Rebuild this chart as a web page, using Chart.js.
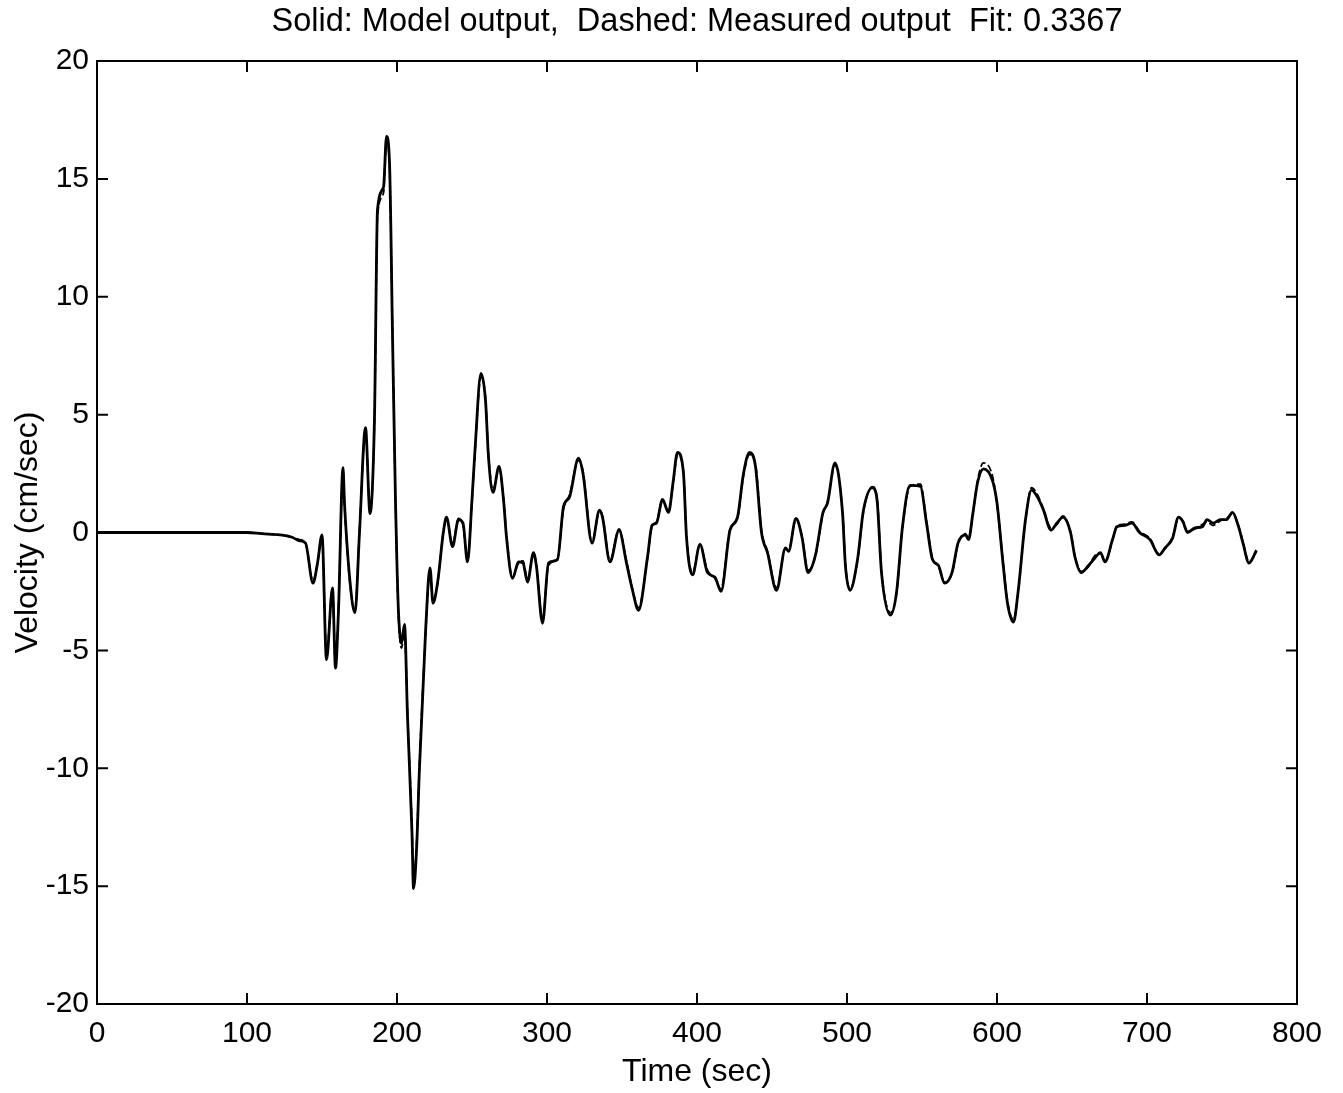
<!DOCTYPE html>
<html>
<head>
<meta charset="utf-8">
<title>Model vs measured velocity</title>
<script src="https://cdn.jsdelivr.net/npm/chart.js"></script>
<style>
    html, body { margin: 0; padding: 0; background: #fff; }
    #wrap { width: 1343px; height: 1093px; }
</style>
</head>
<body>
<div id="wrap"><canvas id="velocityChart" width="1343" height="1093"></canvas></div>
<script>
const timeSec = [
    0, 100, 110, 122, 130, 135, 139, 144, 147, 150, 153, 157, 159, 161, 164, 165, 169, 172, 175, 179,
    182, 185, 187, 191, 193, 195, 197, 199, 200, 201, 203, 205, 207, 210, 211, 213, 215, 219, 222, 224,
    227, 231, 233, 237, 241, 244, 247, 250, 252, 256, 259, 261, 264, 268, 271, 273, 277, 281, 284, 287,
    291, 293, 297, 301, 307, 311, 315, 321, 324, 330, 335, 337, 342, 348, 353, 357, 361, 367, 370, 373,
    377, 381, 384, 387, 391, 393, 397, 402, 407, 412, 416, 422, 427, 431, 435, 439, 443, 447, 453, 459,
    461, 466, 470, 474, 479, 484, 487, 492, 497, 499, 502, 507, 511, 517, 520, 523, 529, 533, 537, 542,
    549, 553, 557, 561, 565, 570, 574, 579, 581, 584, 587, 591, 597, 600, 604, 607, 611, 614, 619, 623,
    627, 631, 636, 640, 644, 649, 652, 656, 661, 665, 669, 672, 677, 680, 685, 690, 695, 702, 708, 712,
    717, 721, 724, 727, 732, 737, 740, 744, 749, 753, 757, 761, 764, 768, 773
];

// solid line
const modelVelocity = [
    0, 0, -0.05, -0.1, -0.2, -0.35, -0.45, -2.15, -1.3, -0.1, -5.4, -2.35, -5.75, -3.3, 2.75, 1.25, -2.3, -3.4, 0, 4.45,
    0.8, 4.9, 13.7, 14.65, 16.8, 15.7, 8.4, 1.3, -1.4, -3.4, -4.7, -3.9, -7.8, -12.75, -15.1, -13.5, -9.95, -4.25, -1.5, -3.0,
    -2.15, 0.05, 0.65, -0.6, 0.55, 0.4, -1.25, 1.4, 3.5, 6.75, 5.6, 3.2, 1.7, 2.8, 1.4, -0.2, -1.95, -1.25, -1.3, -2.1,
    -0.85, -1.45, -3.85, -1.3, -1.15, 1.1, 1.5, 3.15, 2.5, -0.45, 0.95, 0.65, -1.25, 0.1, -1.3, -2.45, -3.3, -1.05, 0.3, 0.4,
    1.4, 0.85, 2.1, 3.4, 2.5, -0.2, -1.8, -0.5, -1.7, -1.9, -2.5, 0.1, 0.65, 2.5, 3.4, 2.8, 0, -0.85, -2.45, -0.65,
    -0.8, 0.6, -0.2, -1.7, -0.95, 0.85, 1.25, 2.95, 0.85, -1.45, -2.45, -1.15, 0.95, 1.9, 1.4, -1.7, -3.5, -2.55, 0.25, 2.0,
    1.95, 0.4, -1.15, -1.4, -2.15, -1.7, -0.45, -0.1, -0.3, 0.85, 2.1, 2.7, 2.2, 1.25, -1.3, -3.0, -3.8, -2.55, 0.55, 1.8,
    1.5, 0.95, 0.1, 0.4, 0.65, 0, -1.05, -1.7, -1.4, -1.1, -0.85, -1.25, -0.3, 0.25, 0.3, 0.4, 0, -0.3, -0.95, -0.65,
    -0.25, 0.65, 0.45, 0, 0.2, 0.25, 0.55, 0.4, 0.55, 0.55, 0.85, 0.25, -0.45, -1.3, -0.75
];

// dashed line
const measuredVelocity = [
    0, 0, -0.05, -0.1, -0.2, -0.3, -0.45, -2.05, -1.3, -0.2, -5.2, -2.4, -5.6, -3.2, 2.5, 1.1, -2.4, -3.3, 0.1, 4.3,
    0.9, 4.7, 13.4, 14.4, 16.6, 15.5, 8.6, 1.2, -1.5, -3.6, -4.9, -4.1, -7.6, -12.5, -14.6, -13.3, -9.8, -4.4, -1.6, -2.9,
    -2.2, 0.1, 0.6, -0.5, 0.6, 0.3, -1.2, 1.3, 3.4, 6.6, 5.7, 3.3, 1.8, 2.7, 1.5, -0.1, -1.9, -1.3, -1.2, -2.0,
    -0.9, -1.4, -3.7, -1.4, -1.1, 1.0, 1.6, 3.05, 2.6, -0.4, 0.9, 0.7, -1.2, 0.15, -1.2, -2.4, -3.2, -1.1, 0.25, 0.45,
    1.35, 0.9, 2.0, 3.3, 2.6, -0.1, -1.7, -0.55, -1.6, -1.95, -2.4, 0.15, 0.6, 2.4, 3.3, 2.9, 0.1, -0.8, -2.35, -0.7,
    -0.75, 0.55, -0.15, -1.6, -1.0, 0.8, 1.3, 2.85, 0.95, -1.35, -2.4, -1.2, 0.9, 1.95, 1.5, -1.6, -3.4, -2.6, 0.2, 1.95,
    2.05, 0.5, -1.1, -1.45, -2.1, -1.75, -0.5, -0.05, -0.25, 0.8, 2.2, 2.95, 2.4, 1.2, -1.2, -2.9, -3.7, -2.6, 0.5, 1.9,
    1.6, 1.0, 0.2, 0.35, 0.7, 0.05, -1.0, -1.65, -1.45, -1.0, -0.9, -1.2, -0.35, 0.3, 0.35, 0.45, 0.05, -0.25, -0.9, -0.7,
    -0.2, 0.6, 0.5, 0.05, 0.15, 0.35, 0.45, 0.3, 0.5, 0.6, 0.8, 0.3, -0.4, -1.25, -0.8
];

const xTicks = [0, 100, 200, 300, 400, 500, 600, 700, 800];
const yTicks = [-20, -15, -10, -5, 0, 5, 10, 15, 20];

const titleText = 'Solid: Model output,  Dashed: Measured output  Fit: 0.3367';
const FONT = '"Liberation Sans", Arial, Helvetica, sans-serif';

// MATLAB-style box with inward ticks on all four sides, title centred over the axes
const boxTicksPlugin = {
    id: 'boxTicks',
    afterDraw(chart) {
        const { ctx, chartArea: a, scales } = chart;
        const len = 11;
        ctx.save();
        ctx.strokeStyle = '#000';
        ctx.lineWidth = 2;
        ctx.strokeRect(a.left, a.top, a.right - a.left, a.bottom - a.top);
        ctx.beginPath();
        xTicks.forEach(v => {
            const px = scales.x.getPixelForValue(v);
            ctx.moveTo(px, a.bottom); ctx.lineTo(px, a.bottom - len);
            ctx.moveTo(px, a.top); ctx.lineTo(px, a.top + len);
        });
        yTicks.forEach(v => {
            const py = scales.y.getPixelForValue(v);
            ctx.moveTo(a.left, py); ctx.lineTo(a.left + len, py);
            ctx.moveTo(a.right, py); ctx.lineTo(a.right - len, py);
        });
        ctx.stroke();

        ctx.fillStyle = '#000';
        ctx.font = '32.5px ' + FONT;
        ctx.textAlign = 'center';
        ctx.textBaseline = 'middle';
        ctx.fillText(titleText, (a.left + a.right) / 2, 22);
        ctx.restore();
    }
};

const ChartPage = {
    init: function () {
        this.canvas = document.getElementById('velocityChart');
        this.createChart();
    },

    toPoints: function (values) {
        return timeSec.map((t, i) => ({ x: t, y: values[i] }));
    },

    createChart: function () {
        new Chart(this.canvas, {
            type: 'line',
            data: {
                datasets: [
                    {
                        label: 'Model output',
                        data: this.toPoints(modelVelocity),
                        borderColor: '#000',
                        borderWidth: 2.8,
                        pointRadius: 0,
                        cubicInterpolationMode: 'monotone'
                    },
                    {
                        label: 'Measured output',
                        data: this.toPoints(measuredVelocity),
                        borderColor: '#000',
                        borderWidth: 1.8,
                        borderDash: [7, 3],
                        pointRadius: 0,
                        cubicInterpolationMode: 'monotone'
                    }
                ]
            },
            options: {
                responsive: false,
                animation: false,
                layout: { padding: { top: 61, right: 46 } },
                plugins: {
                    legend: { display: false },
                    tooltip: { enabled: false },
                    title: { display: false }
                },
                scales: {
                    x: {
                        type: 'linear',
                        min: 0,
                        max: 800,
                        afterBuildTicks: (scale) => { scale.ticks = xTicks.map(v => ({ value: v })); },
                        afterFit: (scale) => { scale.height = 89; },
                        grid: { display: false, drawTicks: false, tickLength: 0 },
                        border: { display: false },
                        ticks: {
                            color: '#000',
                            padding: 12,
                            maxRotation: 0,
                            font: { family: FONT, size: 30 }
                        },
                        title: {
                            display: true,
                            text: 'Time (sec)',
                            color: '#000',
                            font: { family: FONT, size: 32 },
                            padding: { top: 0, bottom: 2 }
                        }
                    },
                    y: {
                        type: 'linear',
                        min: -20,
                        max: 20,
                        afterBuildTicks: (scale) => { scale.ticks = yTicks.map(v => ({ value: v })); },
                        afterFit: (scale) => { scale.width = 97; },
                        grid: { display: false, drawTicks: false, tickLength: 0 },
                        border: { display: false },
                        ticks: {
                            color: '#000',
                            padding: 8,
                            font: { family: FONT, size: 30 }
                        },
                        title: {
                            display: true,
                            text: 'Velocity (cm/sec)',
                            color: '#000',
                            font: { family: FONT, size: 32 },
                            padding: { top: 9, bottom: 0 }
                        }
                    }
                }
            },
            plugins: [boxTicksPlugin]
        });
    }
};

document.addEventListener('DOMContentLoaded', () => ChartPage.init());
</script>
</body>
</html>
